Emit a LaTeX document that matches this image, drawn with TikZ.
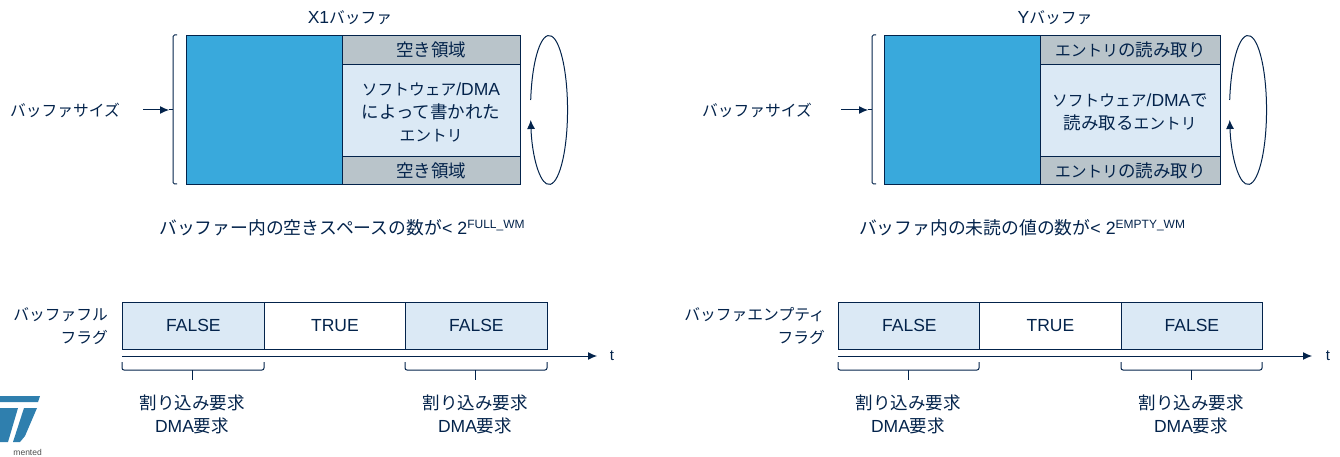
\documentclass[tikz,border=0pt]{standalone}
\usepackage{fontspec}
\setmainfont{Liberation Sans}
\newfontfamily\jp{Noto Sans CJK JP}
\newfontfamily\ka[Scale=0.9]{Noto Sans CJK JP}
\usetikzlibrary{arrows.meta,positioning}

\definecolor{inkblue}{HTML}{03234B}
\definecolor{bufblue}{HTML}{39A9DC}
\definecolor{entryblue}{HTML}{DBE9F5}
\definecolor{freegrey}{HTML}{B9C4CA}
\definecolor{logoblue}{HTML}{2F7FAE}

\tikzset{
  lbl/.style={text=inkblue, font=\fontsize{17.5}{23}\selectfont, inner sep=0pt, align=center},
  cell/.style={draw=inkblue, line width=0.8pt, anchor=north west, inner sep=0pt, align=center,
    text=inkblue, font=\fontsize{17.5}{23}\selectfont},
  caption/.style={lbl, font=\fontsize{17.8}{23}\selectfont},
  tlabel/.style={lbl, font=\fontsize{15}{18}\selectfont},
  thinline/.style={draw=inkblue, line width=1pt},
  flow/.style={thinline, -{Latex[length=9pt,width=8pt]}}
}

\begin{document}
\begin{tikzpicture}[x=1pt,y=-1pt]
\useasboundingbox (0,0) rectangle (1340,457);

% left buffer
\node[lbl] (xtitle) at (350,17.5) {X1{\ka バッファ}};
\node[cell, fill=bufblue, minimum width=156pt, minimum height=149pt] (xmem) at (186,35) {};
\node[cell, fill=freegrey, minimum width=178pt, minimum height=29pt] (xfreetop) at (342,35) {\jp 空き領域};
\node[cell, fill=entryblue, minimum width=178pt, minimum height=92pt] (xentry) at (342,64) {};
\node[lbl] (xentrytext) at (431,112) {{\ka ソフトウェア}/DMA\\{\jp によって書かれた}\\{\ka エントリ}};
\node[cell, fill=freegrey, minimum width=178pt, minimum height=28pt] (xfreebot) at (342,156) {\jp 空き領域};

\draw[thinline, rounded corners=1.5pt] (177,35) -- (173,35) -- (173,184) -- (177,184);
\node[lbl] (xsize) at (65,110) {\ka バッファサイズ};
\coordinate (xsizestart) at (143,110);
\coordinate (xsizetip) at (169,110);
\coordinate (xbracket) at (173,110);
\draw[flow] (xsizestart) -- (xsizetip);
\draw[thinline] (xsizetip) -- (xbracket);

\coordinate (xloop) at (530.7,100);
\draw[flow] (xloop) arc[start angle=187.7, end angle=532.3, x radius=18.5, y radius=74.5];

\node[caption] (xcaption) at (342,228) {{\jp バッファー内の空きスペースの数が}< 2\raisebox{6pt}{\fontsize{12}{12}\selectfont FULL\_WM}};

% left flag
\node[cell, fill=entryblue, minimum width=142pt, minimum height=47pt] (xfalsea) at (122,302) {FALSE};
\node[cell, fill=white, minimum width=141pt, minimum height=47pt] (xtrue) at (264,302) {TRUE};
\node[cell, fill=entryblue, minimum width=142pt, minimum height=47pt] (xfalseb) at (405,302) {FALSE};
\node[lbl, align=right, anchor=east] (xflag) at (108,326) {\ka バッファフル\\\ka フラグ};

\coordinate (xaxis) at (122,356);
\coordinate (xaxisend) at (597,356);
\draw[flow] (xaxis) -- (xaxisend);
\node[tlabel] (xt) at (612,356) {t};

\draw[thinline, rounded corners=2pt] (122,362) -- (122,370) -- (264,370) -- (264,362);
\draw[thinline] (192,370) -- (192,380);
\draw[thinline, rounded corners=2pt] (405,362) -- (405,370) -- (547,370) -- (547,362);
\draw[thinline] (475,370) -- (475,380);
\node[lbl] (xreqa) at (192,414) {\jp 割り込み要求\\DMA{\jp 要求}};
\node[lbl] (xreqb) at (475,414) {\jp 割り込み要求\\DMA{\jp 要求}};

% right buffer
\node[lbl] (ytitle) at (1055,17.5) {Y{\ka バッファ}};
\node[cell, fill=bufblue, minimum width=156pt, minimum height=149pt] (ymem) at (884,35) {};
\node[cell, fill=freegrey, minimum width=180pt, minimum height=29pt] (yreadtop) at (1040,35) {{\ka エントリ}{\jp の読み取り}};
\node[cell, fill=entryblue, minimum width=180pt, minimum height=92pt] (yentry) at (1040,64) {};
\node[lbl] (yentrytext) at (1130,112) {{\ka ソフトウェア}/DMA{\jp で}\\{\jp 読み取る}{\ka エントリ}};
\node[cell, fill=freegrey, minimum width=180pt, minimum height=28pt] (yreadbot) at (1040,156) {{\ka エントリ}{\jp の読み取り}};

\draw[thinline, rounded corners=1.5pt] (876,35) -- (872,35) -- (872,184) -- (876,184);
\node[lbl] (ysize) at (757,110) {\ka バッファサイズ};
\coordinate (ysizestart) at (841,110);
\coordinate (ysizetip) at (868,110);
\coordinate (ybracket) at (872,110);
\draw[flow] (ysizestart) -- (ysizetip);
\draw[thinline] (ysizetip) -- (ybracket);

\coordinate (yloop) at (1229.7,100);
\draw[flow] (yloop) arc[start angle=187.7, end angle=532.3, x radius=18.5, y radius=74.5];

\node[caption] (ycaption) at (1022,228) {{\jp バッファ内の未読の値の数が}< 2\raisebox{6pt}{\fontsize{12}{12}\selectfont EMPTY\_WM}};

% right flag
\node[cell, fill=entryblue, minimum width=142pt, minimum height=47pt] (yfalsea) at (838,302) {FALSE};
\node[cell, fill=white, minimum width=142pt, minimum height=47pt] (ytrue) at (979,302) {TRUE};
\node[cell, fill=entryblue, minimum width=141pt, minimum height=47pt] (yfalseb) at (1121,302) {FALSE};
\node[lbl, align=right, anchor=east] (yflag) at (825,326) {\ka バッファエンプティ\\\ka フラグ};

\coordinate (yaxis) at (838,356);
\coordinate (yaxisend) at (1312,356);
\draw[flow] (yaxis) -- (yaxisend);
\node[tlabel] (yt) at (1328,356) {t};

\draw[thinline, rounded corners=2pt] (838,362) -- (838,370) -- (979,370) -- (979,362);
\draw[thinline] (908,370) -- (908,380);
\draw[thinline, rounded corners=2pt] (1121,362) -- (1121,370) -- (1262,370) -- (1262,362);
\draw[thinline] (1191,370) -- (1191,380);
\node[lbl] (yreqa) at (908,414) {\jp 割り込み要求\\DMA{\jp 要求}};
\node[lbl] (yreqb) at (1191,414) {\jp 割り込み要求\\DMA{\jp 要求}};

% cut-off logo
\fill[logoblue] (0,396) -- (40,396) -- (38,402) -- (0,402) -- cycle;
\fill[logoblue] (0,408) -- (18,408) -- (8,442) -- (0,442) -- cycle;
\fill[logoblue] (24,408) -- (37,408) -- (25,436) -- (20,442) -- (13,442) -- cycle;
\node[anchor=east, inner sep=0pt, text=black!70, font=\fontsize{8.5}{10}\selectfont] (logotext) at (42,452) {mented};
\end{tikzpicture}
\end{document}
